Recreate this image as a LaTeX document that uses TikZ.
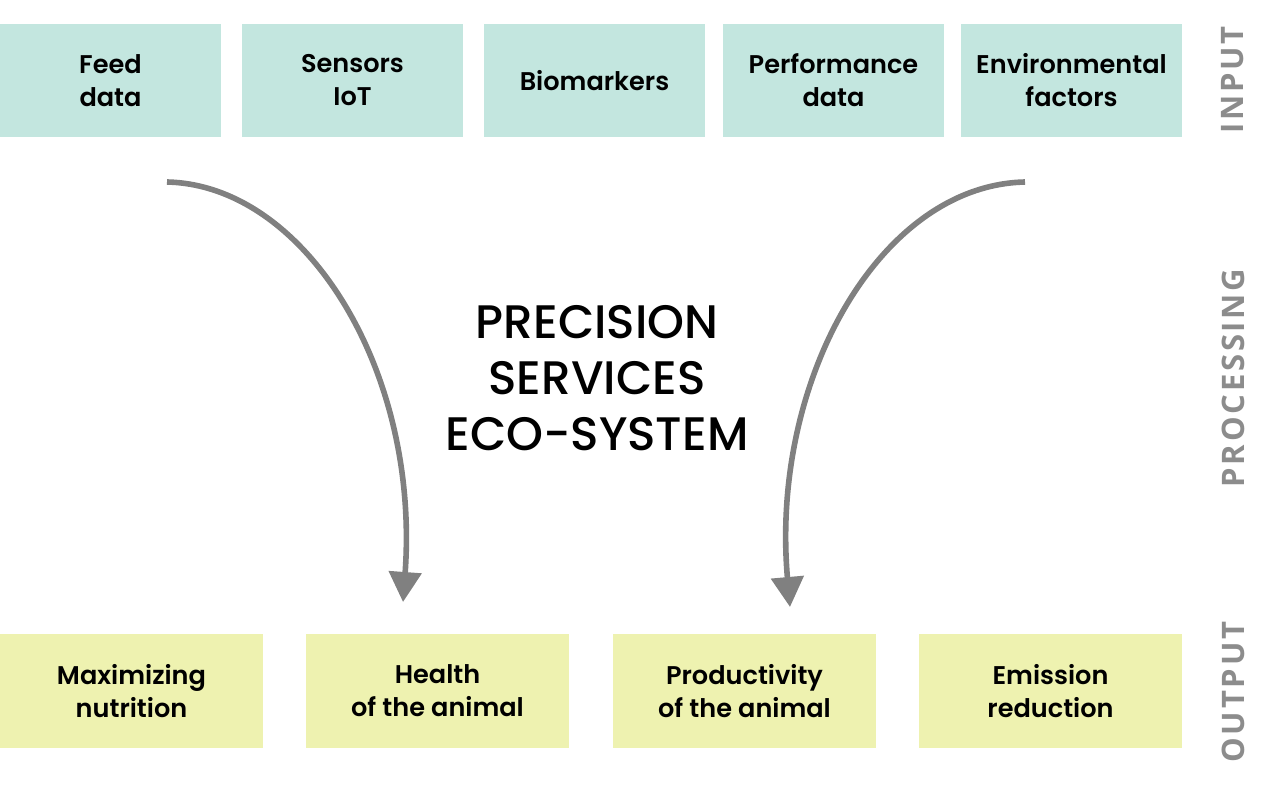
\documentclass[tikz,border=0pt]{standalone}
\usepackage{fontspec}
\usepackage{tikz}
\usetikzlibrary{positioning}
\usetikzlibrary{arrows.meta}
\newfontfamily\boxfont{Poppins SemiBold}
\newfontfamily\ecofont{Poppins Medium}
\newfontfamily\sidefont{Open Sans}[LetterSpace=9]
\definecolor{inputcol}{HTML}{C3E6DF}
\definecolor{outputcol}{HTML}{EEF2B0}
\definecolor{arrowcol}{HTML}{808080}
\definecolor{sidecol}{HTML}{8C8C8C}

\begin{document}
\begin{tikzpicture}[x=0.5pt,y=-0.5pt,
    inbox/.style={fill=inputcol,inner sep=0pt,outer sep=0pt,minimum width=110.5pt,minimum height=56.5pt,align=center,
      font=\boxfont\fontsize{12.8pt}{16.5pt}\selectfont},
    outbox/.style={fill=outputcol,inner sep=0pt,outer sep=0pt,minimum width=131.5pt,minimum height=57pt,align=center,
      font=\boxfont\fontsize{12.8pt}{16.5pt}\selectfont},
    side/.style={rotate=90,text=sidecol,font=\sidefont\bfseries\fontsize{15.5pt}{18pt}\selectfont},
    flow/.style={draw=arrowcol,line width=2.8pt,-{Triangle[length=15pt,width=16pt]}},
]
\useasboundingbox (0,0) rectangle (1280,792);
% input row
\node[inbox] (feed) at (110.5,80.5) {Feed\\data};
\node[inbox] (sensors) [right=10.5pt of feed] {Sensors\\IoT};
\node[inbox] (bio) [right=10.5pt of sensors] {Biomarkers};
\node[inbox] (perf) [right=9pt of bio] {Performance\\data};
\node[inbox] (env) [right=8.5pt of perf] {Environmental\\factors};
% output row
\node[outbox] (nutri) at (131.5,691) {Maximizing\\nutrition};
\node[outbox] (health) [right=21.5pt of nutri] {Health\\of the animal};
\node[outbox] (prod) [right=22pt of health] {Productivity\\of the animal};
\node[outbox] (emis) [right=21.5pt of prod] {Emission\\reduction};
% processing
\node[align=center,font=\ecofont\fontsize{23.5pt}{28pt}\selectfont] (eco) at (597,378) {PRECISION\\SERVICES\\ECO-SYSTEM};
\node[side] (lin) at (1233,80) {INPUT};
\node[side] (lproc) at (1233,378) {PROCESSING};
\node[side] (lout) at (1233,692) {OUTPUT};
\coordinate (a1) at (167,182);
\coordinate (a2) at (403,602);
\coordinate (b1) at (1025,182);
\coordinate (b2) at (790,607);
\draw[flow] (a1) .. controls (305,185) and (420,370) .. (a2);
\draw[flow] (b1) .. controls (880,185) and (770,380) .. (b2);
\end{tikzpicture}
\end{document}
